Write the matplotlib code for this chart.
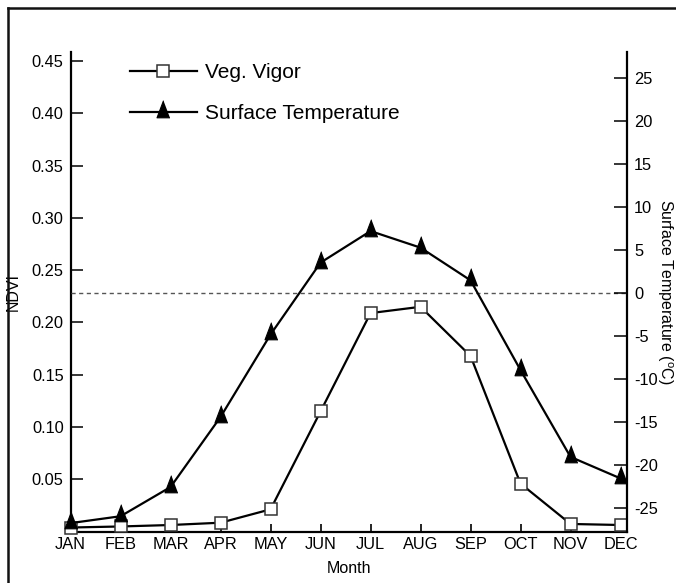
import matplotlib
matplotlib.use("Agg")
import matplotlib.pyplot as plt
from matplotlib.lines import Line2D

plt.rcParams['font.family'] = ['Liberation Sans', 'DejaVu Sans']
plt.rcParams['axes.unicode_minus'] = False

months = ["JAN", "FEB", "MAR", "APR", "MAY", "JUN", "JUL", "AUG", "SEP", "OCT", "NOV", "DEC"]
ndvi = [0.004, 0.005, 0.0064, 0.0086, 0.0214, 0.115, 0.209, 0.215, 0.168, 0.046, 0.0074, 0.0064]
temp = [-26.8, -26.0, -22.6, -14.45, -4.86, 3.5, 7.17, 5.24, 1.44, -9.0, -19.1, -21.6]
ndvi_ticks = [0.05, 0.10, 0.15, 0.20, 0.25, 0.30, 0.35, 0.40, 0.45]
ndvi_labels = ["0.05", "0.10", "0.15", "0.20", "0.25", "0.30", "0.35", "0.40", "0.45"]
temp_ticks = [-25, -20, -15, -10, -5, 0, 5, 10, 15, 20, 25]
temp_labels = ["-25", "-20", "-15", "-10", "-5", "0", "5", "10", "15", "20", "25"]

W, H = 676, 583
fig = plt.figure(figsize=(W / 100, H / 100), dpi=100)
ax = fig.add_axes([70.6 / W, 1 - 531.7 / H, (627 - 70.6) / W, (531.7 - 52) / H])
ax2 = ax.twinx()

x = list(range(len(months)))
tri = [(0, 1), (-0.55, -0.45), (0.55, -0.45)]

l1, = ax.plot(x, ndvi, color='black', lw=1.6, marker='s', ms=9.2,
              mfc='white', mec='#333333', mew=1.1, clip_on=False, zorder=3)
l2, = ax2.plot(x, temp, color='black', lw=1.6, marker=tri, ms=17,
               mfc='black', mec='black', mew=0.8, clip_on=False, zorder=3)
ax2.axhline(0, color='#555555', lw=1.0, ls=(0, (3, 2.5)), zorder=1)

ax.set_xlim(0, 11.13)
ax.set_ylim(0, 0.4586)
ax2.set_ylim(-27.8, 28.0)

ax.set_xticks(x)
ax.set_xticklabels(months)
ax.set_yticks(ndvi_ticks)
ax.set_yticklabels(ndvi_labels)
ax2.set_yticks(temp_ticks)
ax2.set_yticklabels(temp_labels)

for a in (ax, ax2):
    a.spines['top'].set_visible(False)
    for s in a.spines.values():
        s.set_linewidth(1.6)
ax.spines['right'].set_visible(False)
ax2.spines['left'].set_visible(False)
ax2.spines['bottom'].set_visible(False)

ax.tick_params(axis='x', direction='in', length=5.5, width=1.2, labelsize=11.8, pad=4)
ax.tick_params(axis='y', direction='in', length=8.5, width=1.1, labelsize=11.8, pad=5)
ax2.tick_params(axis='y', direction='in', length=9.5, width=1.1, labelsize=11.8, pad=5)

ax.set_xlabel("Month", fontsize=11.5, labelpad=6)
ax.set_ylabel("NDVI", fontsize=11.5, labelpad=8)
ax2.set_ylabel("Surface Temperature ($^{\\mathregular{o}}$C)", fontsize=11.5, rotation=-90, labelpad=12)

ax2.legend([l1, l2], ["Veg. Vigor", "Surface Temperature"], loc='upper left',
           bbox_to_anchor=(130 / W, 1 - 63 / H), bbox_transform=fig.transFigure,
           frameon=False, fontsize=15, handlelength=3.2, handletextpad=0.42,
           labelspacing=1.05, borderpad=0, borderaxespad=0)

# outer frame (top and left edges visible)
fig.add_artist(Line2D([7.5 / W, 1.0], [1 - 7.5 / H, 1 - 7.5 / H], transform=fig.transFigure,
                      color='#111111', lw=1.8))
fig.add_artist(Line2D([7.5 / W, 7.5 / W], [0, 1 - 7.5 / H], transform=fig.transFigure,
                      color='#111111', lw=1.8))

fig.savefig("out.png", dpi=100)
